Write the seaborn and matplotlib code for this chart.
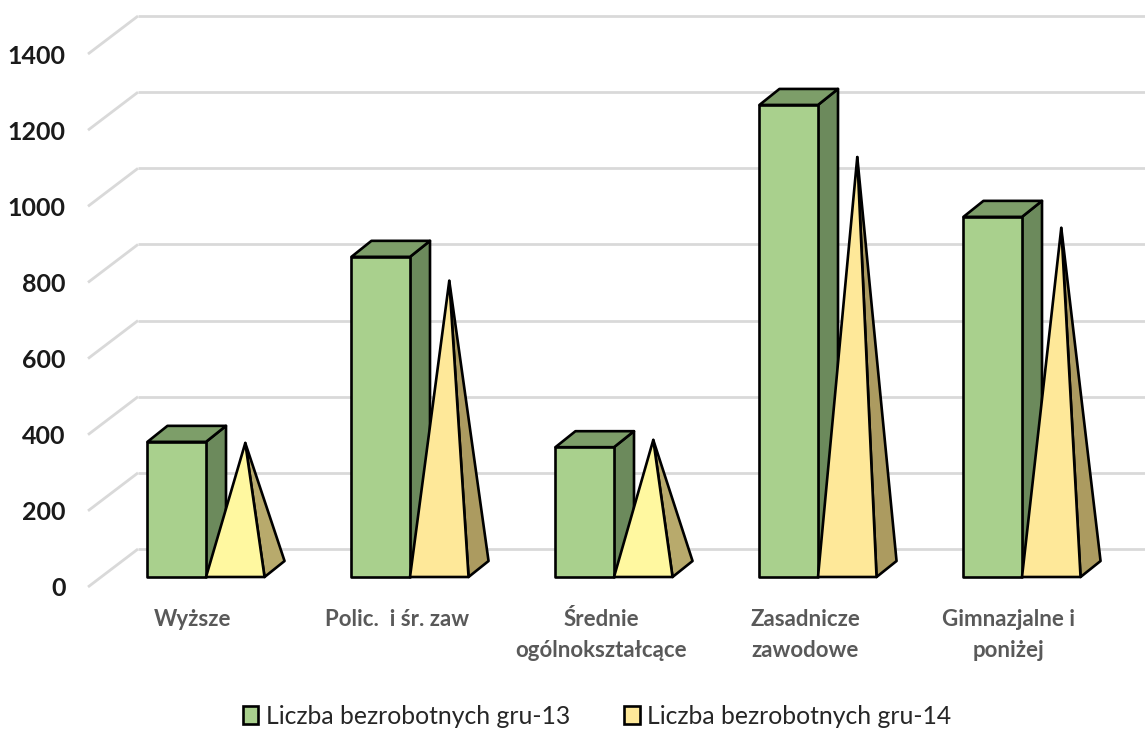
import matplotlib
matplotlib.use('Agg')
import matplotlib.pyplot as plt
from matplotlib.patches import Polygon
from matplotlib.transforms import Affine2D
import pandas as pd
import seaborn as sns

categories = ['Wyższe', 'Polic.  i śr. zaw', 'Średnie\nogólnokształcące',
              'Zasadnicze\nzawodowe', 'Gimnazjalne i\nponiżej']
gru_13 = [355, 841, 341, 1240, 946]
gru_14 = [331, 757, 339, 1082, 896]
series_names = ['Liczba bezrobotnych gru-13', 'Liczba bezrobotnych gru-14']
y_ticks = [0, 200, 400, 600, 800, 1000, 1200, 1400]

# kolory powierzchni (przód, bok, góra)
green_face, green_side, green_top = '#A9D08D', '#6C8A5C', '#7D9E69'
cone_faces = ['#FFF8A0', '#FEE899', '#FFF8A0', '#FEE899', '#FEE899']
cone_sides = ['#B8AA6C', '#AC9B60', '#B8AA6C', '#AC9B60', '#AC9B60']
grid_color = '#D9D9D9'

W, H = 1145, 729
PX_PER_CAT = 204
PX_PER_VAL = 0.3807
LEFT, BASE = 88, 587       # początek osi w pikselach
FIRST_CAT = 193            # środek pierwszej kategorii na przedniej płaszczyźnie
DEPTH_X, DEPTH_Y = 20, 16  # głębokość słupka w pikselach

df = pd.DataFrame({
    'category': categories * 2,
    'series': [series_names[0]] * 5 + [series_names[1]] * 5,
    'value': gru_13 + gru_14,
})

sns.set_theme(style='white')
plt.rcParams['font.family'] = ['Lato', 'DejaVu Sans']

fig = plt.figure(figsize=(W / 100, H / 100), dpi=100)
ax = fig.add_axes([LEFT / W, (H - BASE) / H, (W - LEFT) / W, BASE / H])

sns.barplot(data=df, x='category', y='value', hue='series', ax=ax, width=0.574, gap=0,
            palette=[green_face, cone_faces[1]], edgecolor='black', linewidth=1.9,
            saturation=1, zorder=3)

ax.set_xlim((LEFT - FIRST_CAT) / PX_PER_CAT, (W - FIRST_CAT) / PX_PER_CAT)
ax.set_ylim(0, BASE / PX_PER_VAL)


def shift(dx, dy):
    return ax.transData + Affine2D().translate(dx, dy)


# ściana tylna: linie siatki z ukośnym początkiem
wall = shift(50, 38)
x_start, x_end = ax.get_xlim()
for tick in y_ticks:
    ax.plot([x_start, x_start + 50 / PX_PER_CAT], [tick, tick + 38 / PX_PER_VAL],
            color=grid_color, lw=2, zorder=1, clip_on=False, solid_capstyle='butt')
    ax.plot([x_start, x_end], [tick, tick], transform=wall,
            color=grid_color, lw=2, zorder=1, clip_on=False, solid_capstyle='butt')

# słupki stoją na płaszczyźnie przesuniętej względem osi
bar_tf = shift(13, 10)
dx = DEPTH_X / PX_PER_CAT
dy = DEPTH_Y / PX_PER_VAL
edge = dict(edgecolor='black', linewidth=1.9, joinstyle='round', transform=bar_tf, clip_on=False)

for rect in ax.containers[0]:
    rect.set_transform(bar_tf)
    rect.set_clip_on(False)
    rect.set_joinstyle('round')
    x0, x1, top = rect.get_x(), rect.get_x() + rect.get_width(), rect.get_height()
    ax.add_patch(Polygon([(x1, 0), (x1 + dx, dy), (x1 + dx, top + dy), (x1, top)],
                         facecolor=green_side, zorder=2.5, **edge))
    ax.add_patch(Polygon([(x0, top), (x0 + dx, top + dy), (x1 + dx, top + dy), (x1, top)],
                         facecolor=green_top, zorder=2.5, **edge))

# drugi szereg jako ostrosłupy oparte na pozycjach słupków
for rect, height, face, side in zip(ax.containers[1], gru_14, cone_faces, cone_sides):
    rect.set_visible(False)
    x0, x1 = rect.get_x(), rect.get_x() + rect.get_width()
    apex = ((x0 + x1) / 2 + dx / 2, height + dy / 2)
    ax.add_patch(Polygon([(x1, 0), (x1 + dx, dy), apex], facecolor=side, zorder=4, **edge))
    ax.add_patch(Polygon([(x0, 0), (x1, 0), apex], facecolor=face, zorder=4.5, **edge))

ax.set_xlabel('')
ax.set_ylabel('')
ax.set_yticks(y_ticks)
ax.tick_params(axis='y', length=0, pad=16, labelsize=18, labelcolor='#1A1A1A')
ax.tick_params(axis='x', length=0, pad=16, labelsize=16, labelcolor='#595959')
for label in ax.get_yticklabels() + ax.get_xticklabels():
    label.set_fontweight('bold')
for label in ax.get_xticklabels():
    label.set_linespacing(1.6)
ax.patch.set_visible(False)
sns.despine(ax=ax, left=True, bottom=True)

sns.move_legend(ax, 'center', bbox_to_anchor=(597 / W, 1 - 716 / H), bbox_transform=fig.transFigure,
                ncol=2, frameon=False, title=None, fontsize=17.8, handlelength=0.62, handleheight=0.7,
                handletextpad=0.3, columnspacing=2.2, borderpad=0)

fig.savefig('out.png', dpi=100)
